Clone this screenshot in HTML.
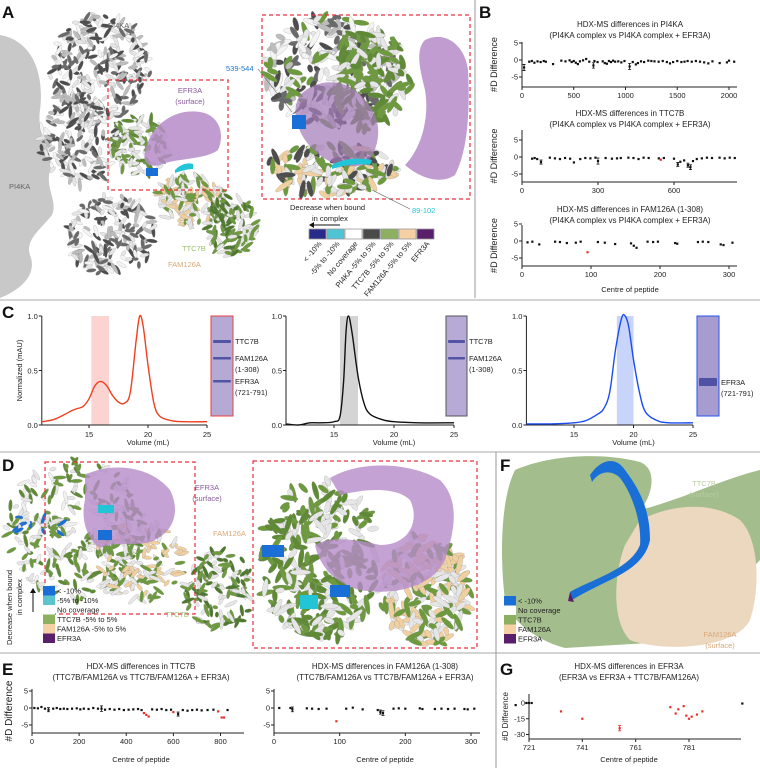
<!DOCTYPE html>
<html><head><meta charset="utf-8"><style>
html,body{margin:0;padding:0;background:#fff;}
svg{display:block;font-family:"Liberation Sans",Arial,sans-serif;}
</style></head><body>
<svg id="fig" width="760" height="768" viewBox="0 0 760 768">
<rect x="0" y="0" width="760" height="768" fill="#fff"/>
<!-- Panel A silhouette -->
<path d="M0,35 C30,40 45,70 40,110 C36,140 55,150 50,170 C45,190 58,200 52,215 C40,230 25,240 30,255 C38,275 20,290 0,298 Z" fill="#c8c8c8"/>
<g id="structA"></g>
<g id="structAinset"></g>
<g id="structD"></g>
<g id="structDinset"></g>
<g id="structF"></g>
<rect x="108" y="80" width="120" height="110" fill="none" stroke="#e8303a" stroke-width="1.2" stroke-dasharray="4,3"/>
<rect x="262" y="15" width="208" height="184" fill="none" stroke="#e8303a" stroke-width="1.2" stroke-dasharray="4,3"/>
<rect x="45" y="462" width="150" height="152" fill="none" stroke="#e8303a" stroke-width="1.2" stroke-dasharray="4,3"/>
<rect x="253" y="461" width="224" height="187" fill="none" stroke="#e8303a" stroke-width="1.2" stroke-dasharray="4,3"/>
<!-- dividers -->
<line x1="475" y1="0" x2="475" y2="298" stroke="#999" stroke-width="1"/>
<line x1="0" y1="300" x2="760" y2="300" stroke="#aaa" stroke-width="1"/>
<line x1="0" y1="452" x2="760" y2="452" stroke="#aaa" stroke-width="1"/>
<line x1="0" y1="653" x2="760" y2="653" stroke="#aaa" stroke-width="1"/>
<line x1="496" y1="452" x2="496" y2="768" stroke="#999" stroke-width="1"/>
<g font-size="7.5">
<text x="108" y="28" fill="#666">PI4KA</text>
<text x="9" y="189" fill="#666">PI4KA</text>
<text x="190" y="93" text-anchor="middle" fill="#8a5a9a">EFR3A</text>
<text x="190" y="104" text-anchor="middle" fill="#8a5a9a">(surface)</text>
<text x="226" y="71" fill="#1b78d0">539-544</text>
<line x1="258" y1="69" x2="292" y2="112" stroke="#666" stroke-width="0.6"/>
<text x="412" y="213" fill="#22c4d8">89-102</text>
<line x1="410" y1="209" x2="372" y2="190" stroke="#666" stroke-width="0.6"/>
<text x="182" y="251" fill="#9cbf6a">TTC7B</text>
<text x="168" y="267" fill="#d9a878">FAM126A</text>
<text x="290" y="210" fill="#222">Decrease when bound</text>
<text x="312" y="221" fill="#222">in complex</text>
</g>
<line x1="340" y1="225" x2="310" y2="225" stroke="#111" stroke-width="1"/>
<path d="M309,225 l5,-3 l0,6z" fill="#111"/>
<g id="legendA"></g>
<g font-size="7.5">
<text x="207" y="490" text-anchor="middle" fill="#8a5a9a">EFR3A</text>
<text x="207" y="501" text-anchor="middle" fill="#8a5a9a">(surface)</text>
<text x="213" y="536" fill="#d9a878">FAM126A</text>
<text x="165" y="617" fill="#9cbf6a">TTC7B</text>
<text x="704" y="486" text-anchor="middle" fill="#b8cca0">TTC7B</text>
<text x="704" y="497" text-anchor="middle" fill="#b8cca0">(surface)</text>
<text x="720" y="637" text-anchor="middle" fill="#d9a878">FAM126A</text>
<text x="720" y="648" text-anchor="middle" fill="#d9a878">(surface)</text>
<text transform="translate(12,645) rotate(-90)" fill="#222">Decrease when bound</text>
<text transform="translate(22,615) rotate(-90)" fill="#222">in complex</text>
</g>
<line x1="33" y1="612" x2="33" y2="590" stroke="#111" stroke-width="1"/>
<path d="M33,588 l-3,5 l6,0z" fill="#111"/>
<g id="legendD"></g>
<g id="legendF"></g>
<g id="charts"></g>
<!-- panel letters -->
<g font-weight="bold" font-size="17" fill="#111">
<text x="2" y="18">A</text>
<text x="479" y="18">B</text>
<text x="2" y="318">C</text>
<text x="2" y="471">D</text>
<text x="2" y="675">E</text>
<text x="500" y="471">F</text>
<text x="500" y="675">G</text>
</g>
</svg>
<script>
// ===== Chart data =====
// B1 PI4KA
const b1X=[20,70,95,120,150,180,210,230,300,380,420,460,480,500,520,540,560,590,620,650,690,700,730,780,800,820,840,860,880,900,930,960,990,1040,1070,1100,1120,1150,1180,1220,1250,1280,1320,1360,1400,1430,1460,1500,1540,1570,1600,1640,1680,1720,1760,1800,1840,1910,1980,2000,2050];
const b1Y=[-2.2,-0.5,-0.3,-0.8,-0.4,-0.6,-0.3,-0.5,-1.2,-0.2,-0.4,-0.1,-0.6,-0.3,-0.8,-1.2,-0.4,-0.1,0.3,-0.5,-1.6,-0.3,-0.6,-0.4,-0.9,-1.1,-0.3,-0.6,-0.2,-0.5,-0.4,-0.7,-0.3,-1.9,-0.6,-1.3,-0.9,-0.4,-0.6,-0.2,-0.3,-0.4,-0.5,-0.3,-0.6,-1.0,-0.6,-0.3,-0.6,-0.5,-0.3,-0.5,-0.3,-0.5,-0.7,-1.0,-0.4,-0.9,-0.7,-0.2,-0.5];
const b1E=[0.9,0.2,0.2,0.4,0.2,0.2,0.2,0.2,0.5,0.2,0.2,0.2,0.3,0.2,0.4,0.5,0.2,0.2,0.2,0.2,0.8,0.2,0.3,0.2,0.4,0.5,0.2,0.2,0.2,0.3,0.2,0.3,0.2,0.9,0.3,0.5,0.4,0.2,0.3,0.2,0.2,0.2,0.2,0.2,0.3,0.4,0.3,0.2,0.3,0.2,0.2,0.2,0.2,0.2,0.3,0.5,0.2,0.5,0.3,0.2,0.2];
const b1Xticks=[0,500,1000,1500,2000];
// B2 TTC7B
const b2X=[40,50,60,75,110,130,150,170,190,205,230,250,270,290,300,330,355,375,390,420,440,460,480,500,540,548,560,600,615,625,640,655,665,675,690,710,730,750,780,800,820,840];
const b2Y=[-0.5,-0.3,-0.6,-1.5,-0.2,-0.4,-0.6,-0.3,-0.5,-1.6,-0.6,-0.3,-0.4,-0.2,-1.2,-0.3,-0.5,-0.4,-0.3,-0.2,-0.3,-0.6,-0.2,-0.3,-0.4,-0.8,-0.3,-0.5,-2.2,-1.4,-1.0,-2.4,-3.0,-1.2,-0.6,-0.4,-0.2,-0.3,-0.2,-0.4,-0.2,-0.3];
const b2E=[0.3,0.2,0.2,0.6,0.2,0.2,0.2,0.2,0.2,0.5,0.2,0.2,0.2,0.2,0.9,0.2,0.2,0.3,0.2,0.2,0.2,0.5,0.2,0.2,0.2,0.2,0.2,0.2,0.6,0.5,0.3,0.6,0.7,0.4,0.2,0.2,0.2,0.2,0.2,0.2,0.2,0.2];
const b2Red=[548];
const b2Xticks=[0,300,600];
// B3 FAM126A
const b3X=[8,15,25,48,55,65,78,85,95,110,120,135,158,162,166,182,190,197,222,225,255,262,270,288,292,305];
const b3Y=[-0.4,-0.2,-1.0,-0.2,-0.3,-0.6,-0.5,-0.2,-3.3,-0.3,-0.5,-0.9,-0.7,-1.4,-2.0,-0.2,-0.3,-0.2,-0.6,-0.8,-0.3,-0.2,-0.3,-1.0,-1.2,-0.5];
const b3E=[0.2,0.2,0.4,0.2,0.2,0.2,0.2,0.2,0.5,0.2,0.2,0.4,0.3,0.4,0.5,0.2,0.2,0.2,0.3,0.3,0.2,0.2,0.2,0.4,0.4,0.2];
const b3Red=[95];
const b3Xticks=[0,100,200,300];
// C chromatograms
const c1V=[11,12,13,13.5,14,14.5,15,15.5,16,16.5,17,17.5,18,18.5,19,19.3,19.6,20,20.5,21,22,23,25];
const c1A=[0.03,0.05,0.1,0.13,0.15,0.17,0.24,0.36,0.40,0.36,0.27,0.21,0.20,0.30,0.78,1.0,0.9,0.55,0.2,0.08,0.04,0.03,0.03];
const c2V=[11,12,13,14,15,15.5,15.8,16,16.2,16.5,17,17.5,18,19,20,22,25];
const c2A=[0.01,0.0,0.02,0.02,0.03,0.08,0.4,0.85,1.0,0.85,0.45,0.2,0.1,0.05,0.03,0.02,0.02];
const c3V=[11,13,15,16,17,17.5,18,18.5,19,19.3,19.6,20,20.5,21,22,23,25];
const c3A=[0.01,0.01,0.02,0.04,0.1,0.15,0.3,0.7,0.98,1.0,0.9,0.6,0.3,0.12,0.04,0.02,0.02];
const cXticks=[15,20,25];
const cYticks=[0,0.5,1.0];
// E1 TTC7B
const e1X=[10,25,40,55,70,90,105,120,135,150,170,190,205,220,240,260,280,295,310,330,350,370,390,410,430,450,465,475,485,495,510,530,550,570,590,600,620,640,660,680,700,720,745,770,790,805,815,830];
const e1Y=[0,-0.1,0.3,-0.2,-0.5,-0.2,0,-0.3,-0.2,-0.3,-0.2,-0.1,-0.4,-0.2,-0.3,0,-0.2,-0.2,-0.5,-0.3,-0.5,-0.3,-0.6,-0.5,-0.4,-0.3,-0.6,-1.5,-2.0,-2.5,-0.4,-0.5,-0.3,-0.6,-0.5,-1.2,-1.8,-0.6,-0.8,-0.6,-0.5,-0.7,-0.6,-0.5,-1.0,-2.8,-2.8,-0.6];
const e1E=[0.3,0.2,0.4,0.3,0.6,0.2,0.2,0.3,0.2,0.2,0.2,0.2,0.5,0.2,0.2,0.2,0.2,0.8,0.2,0.2,0.2,0.2,0.3,0.2,0.2,0.2,0.3,0.2,0.3,0.3,0.2,0.2,0.2,0.3,0.2,0.3,0.6,0.3,0.4,0.3,0.2,0.3,0.2,0.2,0.2,0.3,0.3,0.2];
const e1Red=[475,485,495,600,790,805,815];
const e1Xticks=[0,200,400,600,800];
// E2 FAM126A
const e2X=[8,25,28,50,58,68,80,95,110,120,135,158,162,166,182,190,200,222,226,245,255,265,275,290,295,305];
const e2Y=[0,0,-0.4,-0.1,-0.2,-0.3,-0.2,-3.9,-0.2,0.1,-0.4,-0.6,-1.2,-1.5,-0.2,-0.1,-0.2,-0.1,-0.3,-0.3,-0.2,-0.3,-0.2,-0.3,-0.4,-0.2];
const e2E=[0.2,0.4,0.7,0.2,0.2,0.2,0.2,0.5,0.2,0.2,0.4,0.5,0.6,0.7,0.2,0.2,0.2,0.2,0.3,0.2,0.2,0.2,0.2,0.4,0.5,0.2];
const e2Red=[95];
const e2Xticks=[0,100,200,300];
// G EFR3A
const gX=[716,720,721,722,733,741,755,774,776,777,779,780,781,782,784,786,801];
const gY=[-2,0,0,0,-8,-15,-24,-4,-10,-6,-3,-12,-15,-13,-11,-8,-0.5];
const gE=[0.5,0.5,0.5,0.5,0.8,1.5,2.5,0.5,0.8,0.5,0.5,0.8,1,0.8,0.8,0.8,0.5];
const gRed=[733,741,755,774,776,777,779,780,781,782,784,786];
const gXticks=[721,741,761,781];
const gYticks=[0,-15,-30];

const NS='http://www.w3.org/2000/svg';
function el(tag,attrs,parent){const e=document.createElementNS(NS,tag);for(const k in attrs)e.setAttribute(k,attrs[k]);parent.appendChild(e);return e;}
const charts=document.getElementById('charts');

function scatterPlot(name,cfg,xs,ys,es,reds,xticks,yticks){
  const g=el('g',{},charts);
  
  
  const sx=v=>cfg.x0+(v-cfg.xmin)*(cfg.x1-cfg.x0)/(cfg.xmax-cfg.xmin);
  const sy=v=>cfg.y0+(v-cfg.ymin)*(cfg.y1-cfg.y0)/(cfg.ymax-cfg.ymin);
  const ax=el('line',{x1:cfg.x0,y1:cfg.yAxisBottom,x2:cfg.xEnd,y2:cfg.yAxisBottom,stroke:'#222','stroke-width':1},g);
  
  
  const ay=el('line',{x1:cfg.x0,y1:cfg.yTop,x2:cfg.x0,y2:cfg.yAxisBottom,stroke:'#222','stroke-width':1},g);
  
  
  xticks.forEach(t=>{
    const tl=el('line',{x1:sx(t),y1:cfg.yAxisBottom,x2:sx(t),y2:cfg.yAxisBottom+3,stroke:'#222','stroke-width':1},g);
    
    
    const tt=el('text',{x:sx(t),y:cfg.yAxisBottom+11,'text-anchor':'middle','font-size':7.5,fill:'#222'},g);
    tt.textContent=t;
    
    
  });
  yticks.forEach(t=>{
    const tl=el('line',{x1:cfg.x0-3,y1:sy(t),x2:cfg.x0,y2:sy(t),stroke:'#222','stroke-width':1},g);
    
    
    const tt=el('text',{x:cfg.x0-4,y:sy(t)+2.5,'text-anchor':'end','font-size':7.5,fill:'#222'},g);
    tt.textContent=t;
    
    
  });
  xs.forEach((x,i)=>{
    const c=reds.indexOf(x)>=0?'#e8302a':'#111';
    const px=sx(x),py=sy(ys[i]),pe=Math.abs(sy(ys[i]+es[i])-py);
    if(pe>1.8){
      const eb=el('path',{d:`M${px},${py-pe}V${py+pe}M${px-1.5},${py-pe}h3M${px-1.5},${py+pe}h3`,stroke:c,'stroke-width':0.8,fill:'none'},g);
      
      
    }
    const p=el('rect',{x:px-1.1,y:py-1.1,width:2.2,height:2.2,fill:c},g);
    
    
  });
  (cfg.titles||[]).forEach((t,i)=>{
    const tt=el('text',{x:cfg.titleX,y:cfg.titleY+i*11,'text-anchor':'middle','font-size':8,fill:'#222'},g);
    tt.textContent=t;
    
    
  });
  if(cfg.ylabel){
    const yl=el('text',{transform:`translate(${cfg.ylabelX},${(cfg.yTop+cfg.yAxisBottom)/2}) rotate(-90)`,'text-anchor':'middle','font-size':cfg.ylabelSize||9,fill:'#222'},g);
    yl.textContent=cfg.ylabel;
    
    
  }
  if(cfg.xlabel){
    const xl=el('text',{x:cfg.xlabelX,y:cfg.xlabelY,'text-anchor':'middle','font-size':7.5,fill:'#222'},g);
    xl.textContent=cfg.xlabel;
    
    
  }
}
scatterPlot('chart-b-pi4ka',{x0:522,xmin:0,x1:729,xmax:2000,xEnd:737,y0:60,ymin:0,y1:77,ymax:-5,yTop:42,yAxisBottom:87,titles:['HDX-MS differences in PI4KA','(PI4KA complex vs PI4KA complex + EFR3A)'],titleX:630,titleY:27,ylabel:'#D Difference',ylabelX:497},b1X,b1Y,b1E,[],b1Xticks,[5,0,-5]);
scatterPlot('chart-b-ttc7b',{x0:522,xmin:0,x1:674,xmax:600,xEnd:737,y0:157,ymin:0,y1:174,ymax:-5,yTop:130,yAxisBottom:182,titles:['HDX-MS differences in TTC7B','(PI4KA complex vs PI4KA complex + EFR3A)'],titleX:630,titleY:116,ylabel:'#D Difference',ylabelX:497},b2X,b2Y,b2E,b2Red,b2Xticks,[5,0,-5]);
scatterPlot('chart-b-fam126a',{x0:522,xmin:0,x1:729,xmax:300,xEnd:737,y0:241,ymin:0,y1:258,ymax:-5,yTop:225,yAxisBottom:266,titles:['HDX-MS differences in FAM126A (1-308)','(PI4KA complex vs PI4KA complex + EFR3A)'],titleX:630,titleY:212,ylabel:'#D Difference',ylabelX:497,xlabel:'Centre of peptide',xlabelX:630,xlabelY:292},b3X,b3Y,b3E,b3Red,b3Xticks,[5,0,-5]);
scatterPlot('chart-e-ttc7b',{x0:32,xmin:0,x1:220.5,xmax:800,xEnd:244,y0:708,ymin:0,y1:725,ymax:-5,yTop:689,yAxisBottom:733,titles:['HDX-MS differences in TTC7B','(TTC7B/FAM126A vs TTC7B/FAM126A + EFR3A)'],titleX:141,titleY:669,ylabel:'#D Difference',ylabelX:12,ylabelSize:10,xlabel:'Centre of peptide',xlabelX:141,xlabelY:762},e1X,e1Y,e1E,e1Red,e1Xticks,[5,0,-5]);
scatterPlot('chart-e-fam126a',{x0:274,xmin:0,x1:471,xmax:300,xEnd:480,y0:708,ymin:0,y1:725,ymax:-5,yTop:689,yAxisBottom:733,titles:['HDX-MS differences in FAM126A (1-308)','(TTC7B/FAM126A vs TTC7B/FAM126A + EFR3A)'],titleX:385,titleY:669,xlabel:'Centre of peptide',xlabelX:385,xlabelY:762},e2X,e2Y,e2E,e2Red,e2Xticks,[5,0,-5]);
scatterPlot('chart-g-efr3a',{x0:529,xmin:721,x1:689,xmax:781,xEnd:741,y0:703,ymin:0,y1:734.5,ymax:-30,yTop:694,yAxisBottom:739,titles:['HDX-MS differences in EFR3A','(EFR3A vs EFR3A + TTC7B/FAM126A)'],titleX:629,titleY:669,ylabel:'#D Difference',ylabelX:508,ylabelSize:8,xlabel:'Centre of peptide',xlabelX:629,xlabelY:762},gX,gY,gE,gRed,gXticks,gYticks);

// ===== Chromatograms =====
function chromPlot(name,cfg,vs,as,xticks,yticks){
  const g=el('g',{},charts);
  
  
  const sx=v=>cfg.x15+(v-15)*cfg.k;
  const sy=a=>cfg.yb+(cfg.yt-cfg.yb)*a;
  const sh=el('rect',{x:sx(cfg.s0),y:sy(1),width:sx(cfg.s1)-sx(cfg.s0),height:sy(0)-sy(1),fill:cfg.shade},g);
  
  
  const xa=el('line',{x1:sx(11),y1:sy(0),x2:sx(25),y2:sy(0),stroke:'#222','stroke-width':1},g);
  
  
  const ya=el('line',{x1:sx(11),y1:sy(0),x2:sx(11),y2:sy(1),stroke:'#222','stroke-width':1},g);
  
  
  xticks.forEach(t=>{
    const tl=el('line',{x1:sx(t),y1:sy(0),x2:sx(t),y2:sy(0)+3,stroke:'#222'},g);
    
    
    const tt=el('text',{x:sx(t),y:sy(0)+12,'text-anchor':'middle','font-size':7.5,fill:'#222'},g);
    tt.textContent=t;
    
    
  });
  yticks.forEach(t=>{
    const tl=el('line',{x1:sx(11)-3,y1:sy(t),x2:sx(11),y2:sy(t),stroke:'#222'},g);
    
    
    const tt=el('text',{x:sx(11)-4,y:sy(t)+3,'text-anchor':'end','font-size':7.5,fill:'#222'},g);
    tt.textContent=t.toFixed(1);
    
    
  });
  const pts=vs.map((v,i)=>[sx(v),sy(as[i])]);
  let d=`M${pts[0][0]},${pts[0][1]}`;
  for(let i=0;i<pts.length-1;i++){
    const p0=pts[Math.max(0,i-1)],p1=pts[i],p2=pts[i+1],p3=pts[Math.min(pts.length-1,i+2)];
    d+=`C${p1[0]+(p2[0]-p0[0])/6},${p1[1]+(p2[1]-p0[1])/6} ${p2[0]-(p3[0]-p1[0])/6},${p2[1]-(p3[1]-p1[1])/6} ${p2[0]},${p2[1]}`;
  }
  const ln=el('path',{d:d,fill:'none',stroke:cfg.color,'stroke-width':1.4},g);
  
  
  const xl=el('text',{x:sx(20),y:sy(0)+20,'text-anchor':'middle','font-size':7.5,fill:'#222'},g);
  xl.textContent='Volume (mL)';
  
  
  if(cfg.ylabel){
    const yl=el('text',{transform:`translate(${sx(11)-20},${sy(0.5)}) rotate(-90)`,'text-anchor':'middle','font-size':7.5,fill:'#222'},g);
    yl.textContent=cfg.ylabel;
    
    
  }
  const gel=el('rect',{x:cfg.gx,y:316,width:cfg.gw,height:100,fill:cfg.gelFill,stroke:cfg.gelStroke,'stroke-width':1},g);
  
  
  cfg.bands.forEach(b=>{
    const bd=el('rect',{x:cfg.gx+2,y:b[0],width:cfg.gw-4,height:b[1],fill:'#3a3f9a',opacity:0.8,rx:1},g);
    
    
  });
  cfg.labels.forEach(l=>{
    const t=el('text',{x:cfg.gx+cfg.gw+2,y:l[0],'font-size':7.5,fill:'#222'},g);
    t.textContent=l[1];
    
    
  });
}
chromPlot('chart-c-complex',{x15:89,k:11.8,yb:425,yt:316,s0:15.2,s1:16.7,shade:'#fbd3d0',color:'#f0401f',ylabel:'Normalized (mAU)',gx:211,gw:22,gelFill:'#b4aad4',gelStroke:'#e84040',bands:[[340,3],[357,2.5],[380,2.5]],labels:[[344,'TTC7B'],[361,'FAM126A'],[372,'(1-308)'],[384,'EFR3A'],[395,'(721-791)']]},c1V,c1A,cXticks,cYticks);
chromPlot('chart-c-ttc7b-fam126a',{x15:334,k:12,yb:425,yt:316,s0:15.5,s1:17,shade:'#d4d4d4',color:'#111',gx:446,gw:21,gelFill:'#b8aad6',gelStroke:'#555',bands:[[340,3],[357,2.5]],labels:[[344,'TTC7B'],[361,'FAM126A'],[372,'(1-308)']]},c2V,c2A,cXticks,cYticks);
chromPlot('chart-c-efr3a',{x15:574,k:11.9,yb:425,yt:316,s0:18.6,s1:20,shade:'#c8d4fa',color:'#1a4df0',gx:697,gw:22,gelFill:'#a69cd0',gelStroke:'#2255ee',bands:[[378,8]],labels:[[385,'EFR3A'],[396,'(721-791)']]},c3V,c3A,cXticks,cYticks);

// ===== Legends =====
const legAColors=['#2a2a8a','#4fc4d4','#ffffff','#4a4a4a','#8cb060','#f4d0a4','#5a1f6a'];
const legALabels=['< -10%','-5% to -10%','No coverage','PI4KA -5% to 5%','TTC7B -5% to 5%','FAM126A -5% to 5%','EFR3A'];
const lgA=document.getElementById('legendA');
legAColors.forEach((c,i)=>{
  const r=el('rect',{x:309+i*18,y:229,width:17,height:10,fill:c,stroke:'#999','stroke-width':0.8},lgA);
  
  
  const t=el('text',{transform:`translate(${322+i*18},244) rotate(-50)`,'text-anchor':'end','font-size':7.5,fill:'#222'},lgA);
  t.textContent=legALabels[i];
  
  
});
function vLegend(id,x,y,cols,labs){
  const g=document.getElementById(id);
  cols.forEach((c,i)=>{
    const r=el('rect',{x:x,y:y+i*9.5,width:12,height:9.5,fill:c},g);
    
    
    const t=el('text',{x:x+14,y:y+i*9.5+7.5,'font-size':7.5,fill:'#222'},g);
    t.textContent=labs[i];
    
    
  });
}
vLegend('legendD',43,586,['#1a6fd6','#5cc4cc','#ffffff','#8cb060','#f4d0a4','#5a1f6a'],['< -10%','-5% to -10%','No coverage','TTC7B -5% to 5%','FAM126A -5% to 5%','EFR3A']);
vLegend('legendF',504,596,['#1a6fd6','#ffffff','#8cb060','#f4d0a4','#5a1f6a'],['< -10%','No coverage','TTC7B','FAM126A','EFR3A']);

// ===== Decorative structures (seeded texture) =====
let seed=7;function rnd(){seed=(seed*16807)%2147483647;return seed/2147483647;}
function blob(gid,cx,cy,rx,ry,cols,n,sz){
  const g=document.getElementById(gid);
  for(let i=0;i<n;i++){
    const a=rnd()*6.283,r=Math.sqrt(rnd());
    const x=cx+Math.cos(a)*rx*r,y=cy+Math.sin(a)*ry*r;
    const e=el('ellipse',{cx:x,cy:y,rx:sz*(0.6+rnd()),ry:sz*0.4,transform:`rotate(${rnd()*180},${x},${y})`,fill:cols[Math.floor(rnd()*cols.length)],stroke:'#888','stroke-width':0.2},g);
    
    
  }
}
function surf(gid,d,fill,op,name){
  const g=document.getElementById(gid);
  const p=el('path',{d:d,fill:fill,opacity:op},g);
  
  
}
const grays=['#4d4d4d','#e6e6e6','#6a6a6a','#f4f4f4','#bdbdbd'];
blob('structA',100,70,50,55,grays,260,4.5);
blob('structA',80,140,40,45,grays,160,4.5);
blob('structA',110,235,45,40,grays,180,4.5);
blob('structA',140,145,30,30,['#6e9a3e','#5f8a34','#e6e6e6'],110,4.5);
blob('structA',190,200,35,25,['#f0cfa0','#e6e6e6','#6e9a3e'],130,4.5);
blob('structA',232,225,25,30,['#6e9a3e','#4e7a2e','#e6e6e6'],110,4.5);
surf('structA','M145,152 C150,125 175,108 200,112 C220,115 225,135 218,150 C205,160 175,158 160,165 C150,168 142,162 145,152Z','#b58bc8',0.85,'efr3a-surface');
surf('structA','M146,168 h12 v8 h-12z','#1a6fd6',1,'helix-539-544');
surf('structA','M175,170 c5,-5 12,-8 18,-6 l0,5 c-6,0 -12,2 -18,4z','#22c4d8',1,'helix-89-102');
blob('structAinset',330,70,65,55,grays.concat(['#6e9a3e']),240,6.5);
blob('structAinset',370,80,40,50,['#6e9a3e','#5f8a34','#e6e6e6'],150,6.5);
blob('structAinset',330,170,65,25,['#f0cfa0','#e6e6e6','#6e9a3e','#4d4d4d'],150,6.5);
surf('structAinset','M300,95 C320,75 350,80 365,100 C385,120 380,150 365,165 C340,170 320,160 305,140 C295,125 292,108 300,95Z','#a277b8',0.7,'efr3a-surface-inset');
surf('structAinset','M425,40 C445,30 465,45 468,70 C470,110 468,150 455,175 C440,185 420,178 405,165 C420,150 430,120 425,90 C420,70 415,50 425,40Z','#b58bc8',0.85,'efr3a-surface-inset-right');
surf('structAinset','M292,115 h14 v14 h-14z','#1a6fd6',1,'helix-539-544-inset');
surf('structAinset','M332,165 c10,-6 25,-8 40,-5 l-2,5 c-12,-2 -26,0 -38,4z','#22c4d8',1,'helix-89-102-inset');
blob('structD',75,530,70,70,['#6e9a3e','#e6e6e6','#5f8a34','#f0f0f0'],260,4.5);
blob('structD',140,560,45,40,['#f0cfa0','#e6e6e6','#6e9a3e'],150,4.5);
blob('structD',220,590,35,40,['#4e7a2e','#6e9a3e','#e6e6e6'],120,4.5);
blob('structD',40,525,25,15,['#1a6fd6','#6e9a3e','#e6e6e6'],30,4.5);
surf('structD','M85,475 C110,462 150,465 170,490 C180,510 175,530 155,540 C140,548 115,540 100,548 C88,540 80,520 85,500Z','#b58bc8',0.8,'efr3a-surface-d');
surf('structD','M98,530 h14 v10 h-14z','#1a6fd6',1,'helix-decrease-d');
surf('structD','M98,505 h16 v8 h-16z','#22c4d8',1,'helix-cyan-d');
blob('structDinset',320,560,60,80,['#6e9a3e','#5f8a34','#e6e6e6'],280,6.5);
blob('structDinset',425,590,45,55,['#f0cfa0','#e6e6e6','#6e9a3e'],220,6.5);
surf('structDinset','M330,478 C360,460 410,462 440,480 C460,500 455,530 445,560 C430,590 390,595 360,590 C340,585 320,570 315,545 C330,535 360,540 380,545 C410,545 420,520 410,500 C395,485 360,490 340,495 Z','#b58bc8',0.8,'efr3a-surface-d-inset');
surf('structDinset','M262,545 h22 v12 h-22z','#1a6fd6',1,'helix-decrease-d-inset');
surf('structDinset','M330,585 h20 v12 h-20z','#1a6fd6',1,'helix-decrease-d-inset-2');
surf('structDinset','M300,595 h18 v14 h-18z','#22c4d8',1,'helix-cyan-d-inset');
surf('structF','M515,470 C550,455 600,452 640,462 C660,470 650,500 640,510 C680,500 720,480 760,470 L760,560 C740,580 720,620 700,640 L565,648 C535,640 510,620 505,600 C500,560 500,500 515,470 Z','#a4bd8c',1,'ttc7b-surface');
surf('structF','M640,520 C670,505 710,500 740,520 C760,540 760,590 750,620 C735,650 660,652 630,640 C610,620 615,570 625,545 Z','#ecd8bf',1,'fam126a-surface');
surf('structF','M590,475 C600,460 615,455 625,470 C640,490 650,510 650,540 C645,565 620,575 600,585 C590,590 580,595 572,600 l-2,-8 C590,580 630,570 640,545 C642,520 630,490 620,478 C612,470 600,470 592,482Z','#1a6fd6',1,'efr3a-helix-f');
surf('structF','M570,592 l4,10 l-6,-1z','#5a1f6a',1,'efr3a-residue-f');
</script>
</body></html>
